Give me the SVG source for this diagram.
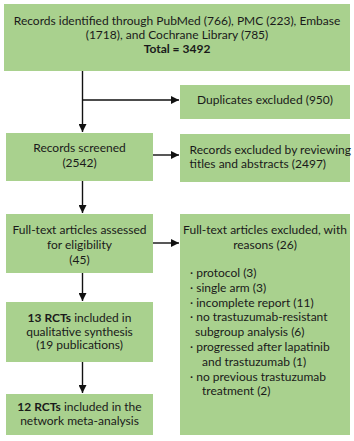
<svg xmlns="http://www.w3.org/2000/svg" width="354" height="441" viewBox="0 0 354 441">
<defs>
<style>
.box{fill:#a9d18e;}
text{font-family:Lato,"Liberation Sans",sans-serif;font-size:12px;fill:#1a1a1a;}
.c{text-anchor:middle;}
.b{font-weight:bold;}
.ln{stroke:#111;stroke-width:1.4;fill:none;}
</style>
<marker id="ah" markerWidth="8" markerHeight="8" refX="6" refY="3" orient="auto" markerUnits="userSpaceOnUse" viewBox="0 0 6 6">
<path d="M0,0 L6,3 L0,6 Z" fill="#111"/>
</marker>
</defs>
<rect width="354" height="441" fill="#fff"/>
<g id="connectors">
<line class="ln" x1="82.5" y1="71" x2="82.5" y2="132" marker-end="url(#ah)"/>
<line class="ln" x1="82.5" y1="100" x2="179" y2="100" marker-end="url(#ah)"/>
<line class="ln" x1="153" y1="155" x2="179" y2="155" marker-end="url(#ah)"/>
<line class="ln" x1="82.5" y1="181" x2="82.5" y2="213" marker-end="url(#ah)"/>
<line class="ln" x1="153" y1="243" x2="179" y2="243" marker-end="url(#ah)"/>
<line class="ln" x1="82.5" y1="273" x2="82.5" y2="301" marker-end="url(#ah)"/>
<line class="ln" x1="82.5" y1="362" x2="82.5" y2="393" marker-end="url(#ah)"/>
</g>
<g id="identified">
<rect class="box" x="4" y="4" width="346" height="67"/>
<text class="c" x="177" y="25">Records identified through PubMed (766), PMC (223), Embase</text>
<text class="c" x="177" y="39">(1718), and Cochrane Library (785)</text>
<text class="c b" x="177" y="53">Total = 3492</text>
</g>
<g id="duplicates">
<rect class="box" x="180" y="85" width="170" height="34"/>
<text class="c" x="265" y="104">Duplicates excluded (950)</text>
</g>
<g id="screened">
<rect class="box" x="6" y="133" width="147" height="48"/>
<text class="c" x="79.5" y="152">Records screened</text>
<text class="c" x="79.5" y="167">(2542)</text>
</g>
<g id="excluded-titles">
<rect class="box" x="180" y="134" width="170" height="48"/>
<text x="189.5" y="154">Records excluded by reviewing</text>
<text x="189.5" y="168">titles and abstracts (2497)</text>
</g>
<g id="assessed">
<rect class="box" x="6" y="214" width="147" height="59"/>
<text class="c" x="79.5" y="234">Full-text articles assessed</text>
<text class="c" x="79.5" y="249">for eligibility</text>
<text class="c" x="79.5" y="264">(45)</text>
</g>
<g id="excluded-fulltext">
<rect class="box" x="180" y="214" width="170" height="221"/>
<text class="c" x="265" y="234">Full-text articles excluded, with</text>
<text class="c" x="265" y="249">reasons (26)</text>
<text x="190" y="277">· protocol (3)</text>
<text x="190" y="291.8">· single arm (3)</text>
<text x="190" y="306.6">· incomplete report (11)</text>
<text x="190" y="321.4">· no trastuzumab-resistant</text>
<text x="195" y="336.2">subgroup analysis (6)</text>
<text x="190" y="351">· progressed after lapatinib</text>
<text x="202" y="365.8">and trastuzumab (1)</text>
<text x="190" y="380.6">· no previous trastuzumab</text>
<text x="202" y="395.4">treatment (2)</text>
</g>
<g id="qualitative">
<rect class="box" x="6" y="302" width="147" height="60"/>
<text class="c" x="79.5" y="322"><tspan class="b">13 RCTs</tspan> included in</text>
<text class="c" x="79.5" y="335.5">qualitative synthesis</text>
<text class="c" x="79.5" y="349">(19 publications)</text>
</g>
<g id="nma">
<rect class="box" x="6" y="394" width="147" height="41"/>
<text class="c" x="79.5" y="411"><tspan class="b">12 RCTs</tspan> included in the</text>
<text class="c" x="79.5" y="424.5">network meta-analysis</text>
</g>
</svg>
